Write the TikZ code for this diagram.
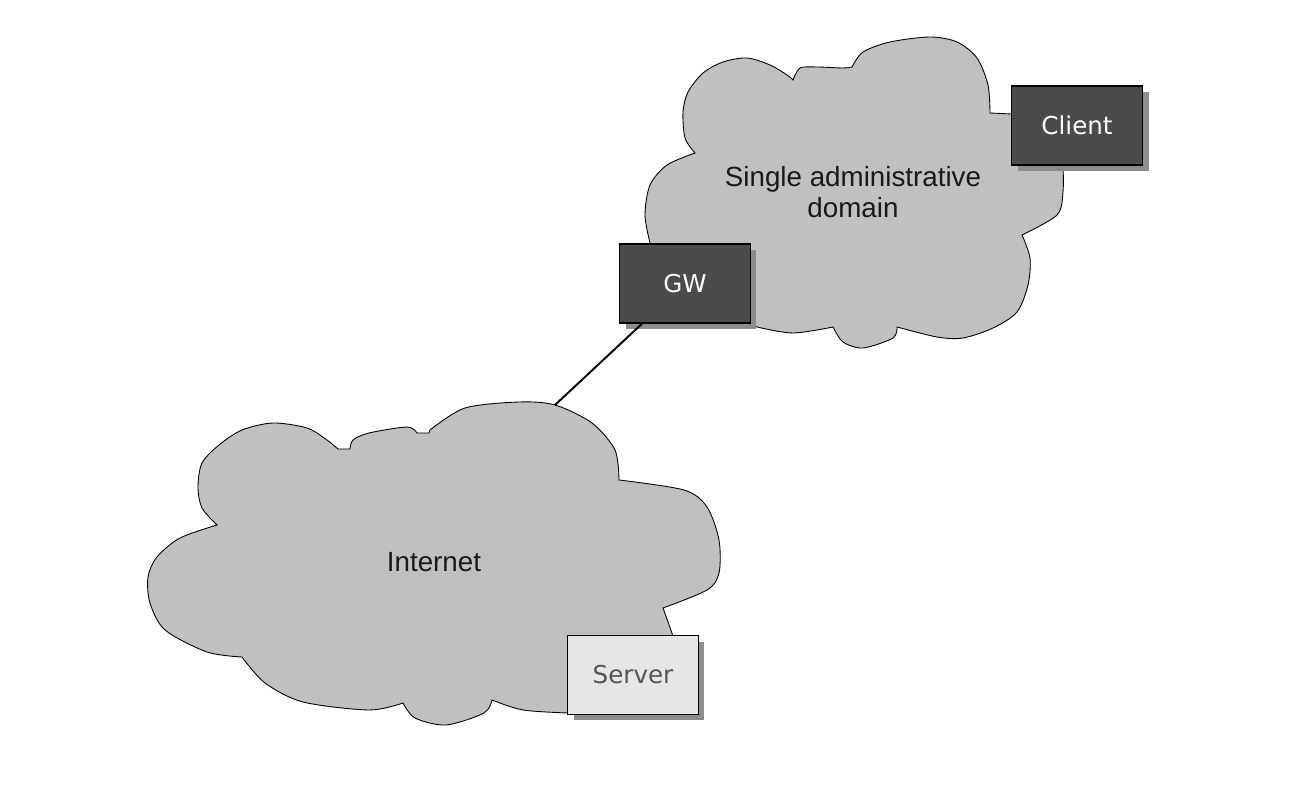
\documentclass[tikz,border=0pt]{standalone}
\usepackage{fontspec}
\setmainfont{Liberation Sans}
\newfontfamily\hostfont{DejaVu Sans}
\usetikzlibrary{shadows}
\definecolor{cloudgray}{HTML}{C0C0C0}
\definecolor{hostdark}{HTML}{4B4B4B}
\definecolor{hostlight}{HTML}{E6E6E6}
\definecolor{shadowgray}{HTML}{8C8C8C}
\definecolor{servertext}{HTML}{555555}

\begin{document}
\begin{tikzpicture}[x=0.02cm, y=-0.02cm,
    cloud/.style={fill=cloudgray, draw=black, line width=0.5pt},
    cloudtext/.style={font=\fontsize{15.8}{17.6}\selectfont, align=center, text=black!90},
    host/.style={draw=black, line width=0.7pt, minimum width=2.62cm, minimum height=1.58cm,
        font=\hostfont\fontsize{14}{16}\selectfont,
        drop shadow={shadow xshift=0.12cm, shadow yshift=-0.12cm, fill=shadowgray, opacity=1}},
    darkhost/.style={host, fill=hostdark, text=white},
    lighthost/.style={host, fill=hostlight, text=servertext}]
    \useasboundingbox (0,0) rectangle (1290,786);
    % single administrative domain
    \draw[cloud] (793,80)
        -- plot[smooth] coordinates {(793,80) (800,68) (817,67) (843,68) (852,67)}
        -- plot[smooth] coordinates {(852,67) (863,52) (890,42) (930,37) (957,42) (977,58) (988,85) (990,113)}
        -- (1012,114) -- (1063,165)
        -- plot[smooth] coordinates {(1063,165) (1063,192) (1057,215) (1022,235)}
        -- plot[smooth] coordinates {(1022,235) (1030,258) (1028,285) (1017,312) (993,328) (963,338) (937,337) (897,327)}
        -- plot[smooth] coordinates {(897,327) (893,338) (863,348) (843,342) (833,327)}
        -- plot[smooth] coordinates {(833,327) (793,333) (757,327)}
        -- (700,300) -- (650,243)
        -- plot[smooth] coordinates {(650,243) (645,215) (650,185) (667,165) (695,153)}
        -- plot[smooth] coordinates {(695,153) (685,138) (683,112) (688,92) (703,73) (723,62) (747,58) (770,65) (787,75) (793,80)}
        -- cycle;
    % internet
    \draw[cloud] (430,430)
        -- plot[smooth] coordinates {(430,430) (465,408) (519,402) (555,405) (592,423) (615,450) (619,480)}
        -- plot[smooth] coordinates {(619,480) (684,490) (707,507) (719,540) (719,573) (707,590) (663,608)}
        -- (673,636) -- (660,690) -- (600,712) -- (568,713)
        -- plot[smooth] coordinates {(568,713) (523,710) (492,700)}
        -- plot[smooth] coordinates {(492,700) (484,713) (446,725) (415,718) (403,703)}
        -- plot[smooth] coordinates {(403,703) (369,710) (303,702) (265,683) (242,657)}
        -- plot[smooth] coordinates {(242,657) (207,652) (165,630) (150,603) (148,577) (157,557) (180,538) (217,525)}
        -- plot[smooth] coordinates {(217,525) (202,508) (198,487) (202,463) (219,445) (242,430) (273,423) (307,428) (327,440) (338,449)}
        -- (350,449)
        -- plot[smooth] coordinates {(350,449) (353,440) (369,433) (407,427) (417,433)}
        -- (429,433) -- cycle;
    \coordinate (inettop) at (555,405);
    \node[cloudtext] (sadtext) at (853,192) {Single administrative\\domain};
    \node[cloudtext] (inettext) at (434,562) {Internet};
    \node[darkhost] (gw) at (685,283.5) {GW};
    \node[darkhost] (client) at (1077,125.5) {Client};
    \node[lighthost] (server) at (633,675) {Server};
    \draw[line width=1.1pt] (inettop) -- (gw);
\end{tikzpicture}
\end{document}
